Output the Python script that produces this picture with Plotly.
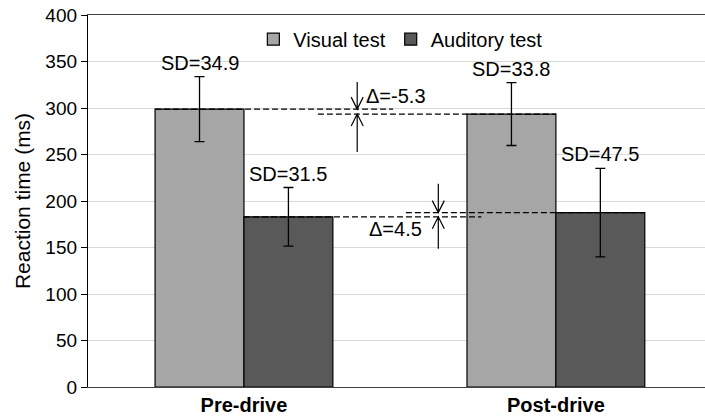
import plotly.graph_objects as go

categories = ["Pre-drive", "Post-drive"]
series_names = ["Visual test", "Auditory test"]
visual_mean = [298.8, 293.5]
auditory_mean = [183.0, 187.5]
visual_sd = [34.9, 33.8]
auditory_sd = [31.5, 47.5]
delta_visual = "Δ=-5.3"
delta_auditory = "Δ=4.5"
y_ticks = [0, 50, 100, 150, 200, 250, 300, 350, 400]

FONT = "Liberation Sans, Arial, sans-serif"
x_pos = list(range(len(categories)))
bar_half = 0.1425  # offset of each bar centre from the category centre

fig = go.Figure()
fig.add_trace(go.Bar(
    x=x_pos, y=visual_mean, name=series_names[0],
    marker=dict(color="#a6a6a6", line=dict(color="#000000", width=1.2)),
    error_y=dict(type="data", array=visual_sd, color="#000000", thickness=1.3, width=5),
))
fig.add_trace(go.Bar(
    x=x_pos, y=auditory_mean, name=series_names[1],
    marker=dict(color="#595959", line=dict(color="#000000", width=1.2)),
    error_y=dict(type="data", array=auditory_sd, color="#000000", thickness=1.3, width=5),
))

annotations = []
# SD labels
for i in x_pos:
    for off, m, s in ((-bar_half, visual_mean[i], visual_sd[i]), (bar_half, auditory_mean[i], auditory_sd[i])):
        annotations.append(dict(x=i + off, y=m + s, text=f"SD={s}", showarrow=False,
                                xanchor="center", yanchor="bottom", yshift=1,
                                font=dict(family=FONT, size=20, color="#000000")))

shapes = []
dash = "6px,3px"
# dashed reference lines at bar tops
shapes.append(dict(type="line", xref="x", yref="y", x0=x_pos[0] - 2 * bar_half, x1=0.478,
                   y0=visual_mean[0], y1=visual_mean[0], line=dict(color="#000000", width=1.2, dash=dash)))
shapes.append(dict(type="line", xref="x", yref="y", x0=0.237, x1=x_pos[1],
                   y0=visual_mean[1], y1=visual_mean[1], line=dict(color="#000000", width=1.2, dash=dash)))
shapes.append(dict(type="line", xref="x", yref="y", x0=x_pos[0], x1=0.761,
                   y0=auditory_mean[0], y1=auditory_mean[0], line=dict(color="#000000", width=1.2, dash=dash)))
shapes.append(dict(type="line", xref="x", yref="y", x0=0.519, x1=x_pos[1] + 2 * bar_half,
                   y0=auditory_mean[1], y1=auditory_mean[1], line=dict(color="#000000", width=1.2, dash=dash)))


def arrow(xa, ya, length, down):
    # open-V arrow whose tip is at (xa, ya); pixel path relative to the tip (+y is up)
    s = 1 if down else -1
    path = f"M0,0 L0,{s*length} M-6,{s*12} L0,0 L6,{s*12}"
    return dict(type="path", xref="x", yref="y", xsizemode="pixel", ysizemode="pixel",
                xanchor=xa, yanchor=ya, path=path, line=dict(color="#000000", width=1.2))


xa1, xa2 = 0.363, 0.623
shapes.append(arrow(xa1, visual_mean[0], 27, True))
shapes.append(arrow(xa1, visual_mean[1], 38, False))
shapes.append(arrow(xa2, auditory_mean[1], 29, True))
shapes.append(arrow(xa2, auditory_mean[0], 32, False))

annotations.append(dict(x=xa1, y=visual_mean[0], text=delta_visual, showarrow=False,
                        xanchor="left", yanchor="middle", xshift=7, yshift=13,
                        font=dict(family=FONT, size=20, color="#000000")))
annotations.append(dict(x=xa2, y=auditory_mean[0], text=delta_auditory, showarrow=False,
                        xanchor="right", yanchor="middle", xshift=-14, yshift=-12,
                        font=dict(family=FONT, size=20, color="#000000")))

fig.update_layout(
    width=705, height=420,
    margin=dict(l=88, r=0, t=15, b=33, autoexpand=False),
    paper_bgcolor="#ffffff", plot_bgcolor="#ffffff",
    barmode="group", bargap=0.43, bargroupgap=0,
    font=dict(family=FONT, size=20, color="#000000"),
    showlegend=True,
    legend=dict(orientation="h", x=0.268, xanchor="left", y=0.935, yanchor="middle",
                bgcolor="rgba(0,0,0,0)", font=dict(family=FONT, size=20, color="#000000"),
                itemwidth=30),
    annotations=annotations,
    shapes=shapes,
)
fig.update_xaxes(
    range=[-0.5, 1.478], tickmode="array", tickvals=x_pos,
    ticktext=[f"<b>{c}</b>" for c in categories],
    tickfont=dict(family=FONT, size=20, color="#000000"),
    showline=True, linecolor="#404040", linewidth=1.3, mirror=True,
    ticks="", showgrid=False, zeroline=False, automargin=False,
)
fig.update_yaxes(
    range=[0, 400], tickmode="array", tickvals=y_ticks,
    tickfont=dict(family=FONT, size=19, color="#000000"),
    automargin=False,
    showline=True, linecolor="#000000", linewidth=1.3,
    ticks="outside", ticklen=6, tickcolor="#000000", tickwidth=1.2,
    showgrid=True, gridcolor="#d9d9d9", gridwidth=1, zeroline=False,
    title=dict(text="Reaction time (ms)", font=dict(family=FONT, size=21, color="#000000"), standoff=8),
)

# remove the browser's default 8px page margin so the 705x420 figure fills the window
fig.write_html("out.html", config={"displayModeBar": False},
               post_script="document.body.style.margin='0px';document.body.style.overflow='hidden';")
